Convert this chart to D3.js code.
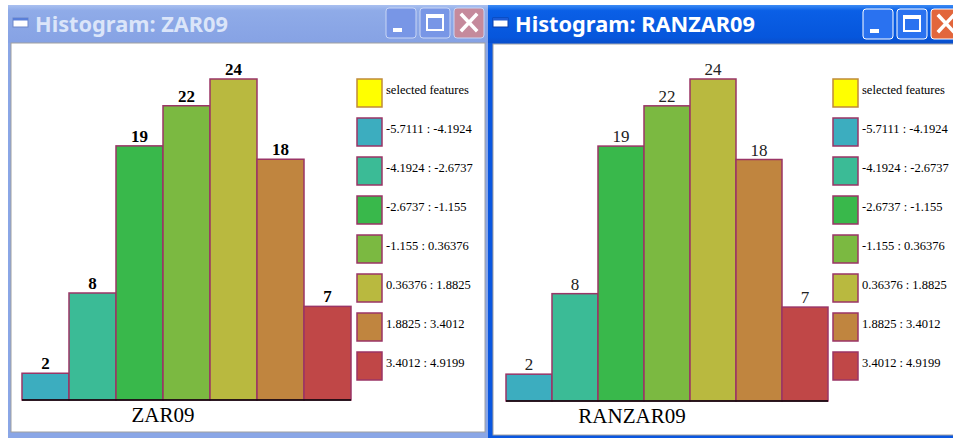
<!DOCTYPE html>
<html>
<head>
<meta charset="utf-8">
<script src="https://cdn.jsdelivr.net/npm/d3@7/dist/d3.min.js"></script>
<style>
  html, body { margin: 0; padding: 0; background: #ffffff; }
  svg { display: block; }
</style>
</head>
<body>
<svg id="chart" width="953" height="438"></svg>
<script>
// Class breaks of the histogram bins (legend text)
const binLabels = [
  "-5.7111 : -4.1924",
  "-4.1924 : -2.6737",
  "-2.6737 : -1.155",
  "-1.155 : 0.36376",
  "0.36376 : 1.8825",
  "1.8825 : 3.4012",
  "3.4012 : 4.9199"
];
// Feature counts per bin
const zarCounts = [2, 8, 19, 22, 24, 18, 7];
const ranzarCounts = [2, 8, 19, 22, 24, 18, 7];
const binColors = ["#3cadbf", "#3bbb96", "#39b84b", "#7bb941", "#b9b93f", "#c0853f", "#c04747"];
const selectedLabel = "selected features";
const selectedColor = "#ffff00";
const variableNames = ["ZAR09", "RANZAR09"];
const windowTitles = ["Histogram: ZAR09", "Histogram: RANZAR09"];

const svg = d3.select("#chart");
const defs = svg.append("defs");

// Window frame (title bar, borders, caption buttons)
function drawWindow(g, cfg) {
  const { x, w, active, title, titleWidth } = cfg;
  const frame = active ? "#0a57e0" : "#8aa6e6";
  const gid = "tb" + (active ? "A" : "I");
  const grad = defs.append("linearGradient").attr("id", gid)
    .attr("x1", 0).attr("y1", 0).attr("x2", 0).attr("y2", 1);
  if (active) {
    grad.append("stop").attr("offset", 0).attr("stop-color", "#3d8cf5");
    grad.append("stop").attr("offset", 0.15).attr("stop-color", "#0a5fe6");
    grad.append("stop").attr("offset", 0.85).attr("stop-color", "#0656dc");
    grad.append("stop").attr("offset", 1).attr("stop-color", "#0a4fcc");
  } else {
    grad.append("stop").attr("offset", 0).attr("stop-color", "#a9c0f0");
    grad.append("stop").attr("offset", 0.15).attr("stop-color", "#8fabe8");
    grad.append("stop").attr("offset", 1).attr("stop-color", "#86a2e4");
  }
  // frame background
  g.append("rect").attr("x", x).attr("y", 5).attr("width", w).attr("height", 438 - 5)
    .attr("fill", frame);
  g.append("rect").attr("x", x).attr("y", 5).attr("width", w).attr("height", 38)
    .attr("fill", `url(#${gid})`);
  // client area
  const cx = x + (active ? 5 : 3), cy = active ? 44 : 43;
  const cw = w - (active ? 8 : 6), ch = active ? 391 : 389;
  g.append("rect").attr("x", cx).attr("y", cy).attr("width", cw).attr("height", ch)
    .attr("fill", "#ffffff").attr("stroke", "#a0a0a0").attr("stroke-width", 1);
  // window icon
  g.append("rect").attr("x", x + 5).attr("y", 18).attr("width", 15).attr("height", 9)
    .attr("fill", "#ffffff").attr("stroke", active ? "#0b3ea8" : "#6f87c8").attr("stroke-width", 1);
  g.append("rect").attr("x", x + 5).attr("y", 18).attr("width", 15).attr("height", 2.5)
    .attr("fill", active ? "#1d5bd6" : "#5a7fd8");
  // title text
  g.append("text").attr("x", x + 27).attr("y", 32)
    .attr("font-family", "'Noto Sans', 'DejaVu Sans', sans-serif")
    .attr("font-weight", "bold").attr("font-size", 21)
    .attr("textLength", titleWidth).attr("lengthAdjust", "spacingAndGlyphs")
    .attr("fill", active ? "#ffffff" : "#dbe5f9")
    .text(title);
  return { cx, cy, cw, ch };
}

function captionButtons(g, x0, y0, active) {
  const bw = 30, bh = 30, gap = 4;
  const base = active ? "#2a72f0" : "#7896e6";
  const edge = active ? "#ffffff" : "#c9d6f5";
  const glyph = "#ffffff";
  [0, 1, 2].forEach(i => {
    const bx = x0 + i * (bw + gap);
    const fill = i === 2 ? (active ? "#e2663c" : "#c58a9c") : base;
    g.append("rect").attr("x", bx).attr("y", y0).attr("width", bw).attr("height", bh)
      .attr("rx", 3).attr("fill", fill).attr("stroke", edge).attr("stroke-width", 1);
    if (i === 0) {
      g.append("rect").attr("x", bx + 7).attr("y", y0 + 20).attr("width", 9).attr("height", 4)
        .attr("fill", glyph);
    } else if (i === 1) {
      g.append("rect").attr("x", bx + 7).attr("y", y0 + 7).attr("width", 16).attr("height", 15)
        .attr("fill", "none").attr("stroke", glyph).attr("stroke-width", 2);
      g.append("rect").attr("x", bx + 7).attr("y", y0 + 7).attr("width", 16).attr("height", 3)
        .attr("fill", glyph);
    } else {
      g.append("path")
        .attr("d", `M${bx + 8},${y0 + 7}L${bx + 22},${y0 + 22}M${bx + 22},${y0 + 7}L${bx + 8},${y0 + 22}`)
        .attr("stroke", glyph).attr("stroke-width", 3.5).attr("stroke-linecap", "square");
    }
  });
}

// Histogram with legend inside a window
function drawHistogram(g, cfg) {
  const { counts, name, left, right, base, legendX, labelX, bold } = cfg;
  const xScale = d3.scaleBand().domain(d3.range(counts.length)).range([left, right]).padding(0);
  const yScale = d3.scaleLinear().domain([0, 24]).range([base, 79]);
  const stroke = "#9a3566";

  g.selectAll("rect.bar").data(counts).enter().append("rect")
    .attr("class", "bar")
    .attr("x", (d, i) => xScale(i))
    .attr("y", d => yScale(d))
    .attr("width", xScale.bandwidth())
    .attr("height", d => yScale(0) - yScale(d))
    .attr("fill", (d, i) => binColors[i])
    .attr("stroke", stroke).attr("stroke-width", 1.5);

  g.selectAll("text.val").data(counts).enter().append("text")
    .attr("class", "val")
    .attr("x", (d, i) => xScale(i) + xScale.bandwidth() / 2)
    .attr("y", d => yScale(d) - 4)
    .attr("text-anchor", "middle")
    .attr("font-family", "'Liberation Serif', 'Times New Roman', serif")
    .attr("font-size", 17)
    .attr("font-weight", bold ? "bold" : "normal")
    .attr("fill", bold ? "#000000" : "#222222")
    .text(d => d);

  g.append("line").attr("x1", left).attr("x2", right).attr("y1", base).attr("y2", base)
    .attr("stroke", "#000000").attr("stroke-width", 1.5);

  g.append("text").attr("x", labelX).attr("y", base + 22)
    .attr("text-anchor", "middle")
    .attr("font-family", "'Liberation Serif', 'Times New Roman', serif")
    .attr("font-size", 21).attr("fill", "#000000")
    .text(name);

  // legend
  const items = [{ label: selectedLabel, color: selectedColor }]
    .concat(binLabels.map((l, i) => ({ label: l, color: binColors[i] })));
  const ly = d3.scaleLinear().domain([0, 1]).range([79, 118]);
  const leg = g.selectAll("g.leg").data(items).enter().append("g").attr("class", "leg")
    .attr("transform", (d, i) => `translate(${legendX},${ly(i)})`);
  leg.append("rect").attr("width", 25).attr("height", 28)
    .attr("fill", d => d.color)
    .attr("stroke", (d, i) => i === 0 ? "#c08a3a" : stroke).attr("stroke-width", 1.5);
  leg.append("text").attr("x", 29).attr("y", 14.5)
    .attr("font-family", "'Liberation Serif', 'Times New Roman', serif")
    .attr("font-size", 12.5).attr("fill", "#000000")
    .text(d => d.label);
}

// left (inactive) window
const gL = svg.append("g");
drawWindow(gL, { x: 8, w: 480, active: false, title: windowTitles[0], titleWidth: 193 });
captionButtons(gL, 386, 8, false);
drawHistogram(gL, { counts: zarCounts, name: variableNames[0], left: 22, right: 351, base: 400, legendX: 357, labelX: 163, bold: true });

// right (active) window
const gR = svg.append("g");
drawWindow(gR, { x: 488, w: 470, active: true, title: windowTitles[1], titleWidth: 240 });
captionButtons(gR, 863, 9, true);
drawHistogram(gR, { counts: ranzarCounts, name: variableNames[1], left: 506, right: 828, base: 401, legendX: 833, labelX: 632, bold: false });
</script>
</body>
</html>
